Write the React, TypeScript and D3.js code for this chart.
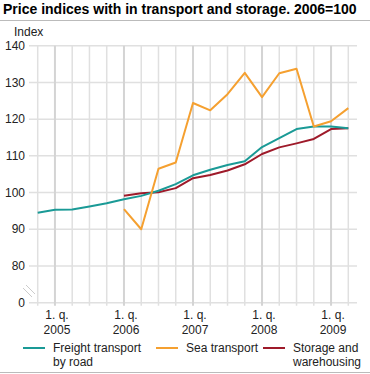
import React from 'react';
import * as d3 from 'd3';

// Quarters from 4th quarter 2004 to 2nd quarter 2009
const quarters = [
  '2004K4',
  '2005K1', '2005K2', '2005K3', '2005K4',
  '2006K1', '2006K2', '2006K3', '2006K4',
  '2007K1', '2007K2', '2007K3', '2007K4',
  '2008K1', '2008K2', '2008K3', '2008K4',
  '2009K1', '2009K2',
];

const freightByRoad = [94.5, 95.3, 95.4, 96.2, 97.1, 98.2, 99.1, 100.5, 102.3, 104.7, 106.2, 107.5, 108.5, 112.4, 114.8, 117.3, 118.0, 118.0, 117.5];
const seaTransport = [null, null, null, null, null, 95.5, 90.0, 106.5, 108.2, 124.4, 122.4, 126.8, 132.6, 126.0, 132.5, 133.7, 118.0, 119.4, 123.0];
const storage = [null, null, null, null, null, 99.1, 99.8, 100.1, 101.2, 103.9, 104.8, 106.0, 107.7, 110.5, 112.3, 113.4, 114.6, 117.3, 117.5];

const yTicks = [70, 80, 90, 100, 110, 120, 130, 140];
const yTickLabel = (v: number) => (v === 70 ? '0' : String(v));

const seriesNames = ['Freight transport|by road', 'Sea transport', 'Storage and|warehousing'];
const seriesColors = ['#1a9a96', '#f5a030', '#9e1a2a'];

const W = 370;
const H = 374;
const FONT = '"Liberation Sans", Arial, sans-serif';

export default function App() {
  const x = d3.scalePoint<string>().domain(quarters).range([37.7, 348.3]);
  // the axis is broken: "0" sits where 70 would be
  const y = d3.scaleLinear().domain([70, 140]).range([302.7, 45.7]);

  const line = d3
    .line<number | null>()
    .defined((d) => d != null)
    .x((_, i) => x(quarters[i]) as number)
    .y((d) => y(d as number));

  const series = [
    { values: storage, color: seriesColors[2] },
    { values: freightByRoad, color: seriesColors[0] },
    { values: seaTransport, color: seriesColors[1] },
  ];

  const legendX = [23, 156, 263];

  return (
    <svg width={W} height={H} style={{ position: 'absolute', left: 0, top: 0 }} fontFamily={FONT}>
      <rect width={W} height={H} fill="#fff" />
      <text x={3} y={14} fontSize={14} fontWeight="bold" fill="#000">
        Price indices with in transport and storage. 2006=100
      </text>
      <line x1={0} x2={W} y1={20.5} y2={20.5} stroke="#bbb" />

      {/* grid */}
      {yTicks.map((t) => (
        <line key={'h' + t} x1={29} x2={357} y1={y(t)} y2={y(t)} stroke="#e0e0e0" strokeWidth={1.5} />
      ))}
      {quarters.map((q) => (
        <line
          key={'v' + q}
          x1={x(q)}
          x2={x(q)}
          y1={y(140)}
          y2={y(70) + 3}
          stroke={q.endsWith('K1') ? '#d4d4d4' : '#e0e0e0'}
          strokeWidth={q.endsWith('K1') ? 2 : 1.5}
        />
      ))}

      {/* axis break */}
      <line x1={23} y1={288} x2={32} y2={297} stroke="#ccc" />
      <line x1={26} y1={285} x2={35} y2={294} stroke="#ccc" />

      {/* y labels */}
      {yTicks.map((t) => (
        <text key={'yl' + t} x={25} y={y(t)} dy="0.35em" textAnchor="end" fontSize={12} fill="#222">
          {yTickLabel(t)}
        </text>
      ))}
      <text x={14} y={36} fontSize={12} fill="#222">Index</text>

      {/* x labels */}
      {quarters
        .filter((q) => q.endsWith('K1'))
        .map((q) => (
          <g key={'xl' + q} transform={`translate(${x(q)},0)`} fontSize={12} fill="#222" textAnchor="middle">
            <text x={2} y={319}>1. q.</text>
            <text x={2} y={334}>{q.slice(0, 4)}</text>
          </g>
        ))}

      {/* lines */}
      {series.map((s, i) => (
        <path key={'s' + i} d={line(s.values) || ''} fill="none" stroke={s.color} strokeWidth={2} strokeLinejoin="round" />
      ))}

      {/* legend */}
      {seriesNames.map((name, i) => (
        <g key={'lg' + i}>
          <line x1={legendX[i]} x2={legendX[i] + 22} y1={348} y2={348} stroke={seriesColors[i]} strokeWidth={2} />
          {name.split('|').map((part, j) => (
            <text key={j} x={legendX[i] + 30} y={352 + j * 14} fontSize={12} fill="#222">
              {part}
            </text>
          ))}
        </g>
      ))}

      <line x1={0} x2={W} y1={372.5} y2={372.5} stroke="#bbb" />
    </svg>
  );
}
